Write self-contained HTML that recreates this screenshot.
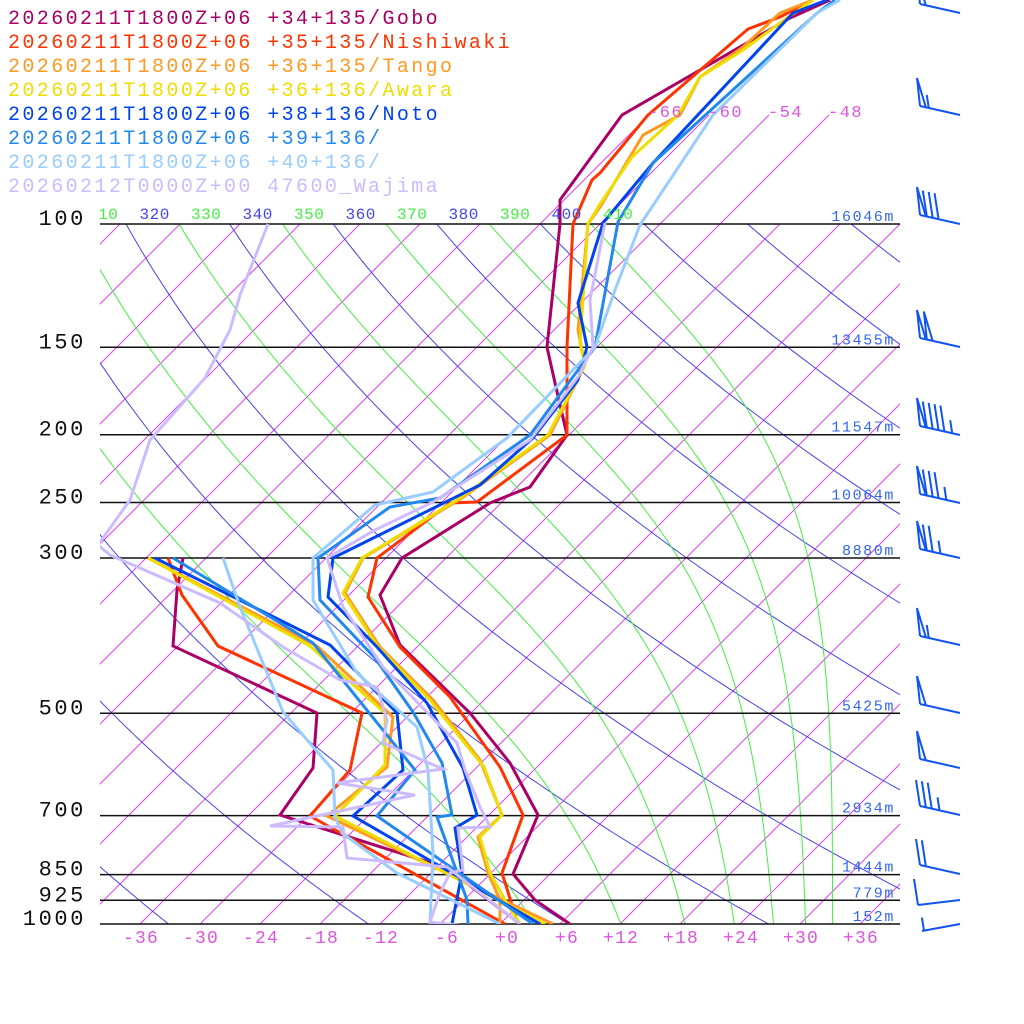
<!DOCTYPE html>
<html><head><meta charset="utf-8"><style>
html,body{margin:0;padding:0;background:#fff;width:1024px;height:1024px;overflow:hidden}
svg{display:block}
text{font-family:"Liberation Mono","DejaVu Sans Mono",monospace}
</style></head><body>
<svg id="s" width="1024" height="1024" viewBox="0 0 1024 1024" xmlns="http://www.w3.org/2000/svg">
<defs><clipPath id="c"><rect x="100" y="224" width="800" height="700"/></clipPath>
<clipPath id="c2"><rect x="100" y="0" width="800" height="924"/></clipPath></defs>
<g id="grid" clip-path="url(#c)"></g>
<g id="iso2"></g>
<g id="plines"></g>
<g id="series" clip-path="url(#c2)" fill="none" stroke-width="3" stroke-linejoin="miter"></g>
<g id="labels"></g>
<g id="barbs" stroke="#1155ee" stroke-width="2" fill="none"></g>
<g font-size="20" letter-spacing="2.4">
<text x="8" y="24" fill="#aa0066">20260211T1800Z+06 +34+135/Gobo</text>
<text x="8" y="48" fill="#ff3300">20260211T1800Z+06 +35+135/Nishiwaki</text>
<text x="8" y="72" fill="#ff9922">20260211T1800Z+06 +36+135/Tango</text>
<text x="8" y="96" fill="#eedd00">20260211T1800Z+06 +36+136/Awara</text>
<text x="8" y="120" fill="#0044ee">20260211T1800Z+06 +38+136/Noto</text>
<text x="8" y="144" fill="#2288ee">20260211T1800Z+06 +39+136/</text>
<text x="8" y="168" fill="#99ccff">20260211T1800Z+06 +40+136/</text>
<text x="8" y="192" fill="#ccbbff">20260212T0000Z+00 47600_Wajima</text>
</g>
</svg>
<script>
var NS="http://www.w3.org/2000/svg";
function el(par,tag,a,txt){var e=document.createElementNS(NS,tag);for(var k in a)e.setAttribute(k,a[k]);if(txt!==undefined)e.textContent=txt;document.getElementById(par).appendChild(e);return e;}
function py(p){return 924-700*Math.log10(1000/p);}
function px(T,y){return 500+10*T+(924-y);}
for(var T=-156;T<=42;T+=6){var y1=924,y2=224;el("grid","line",{x1:px(T,y1),y1:y1,x2:px(T,y2),y2:y2,stroke:"#dd44ee","stroke-width":1});}
[-66,-60,-54,-48].forEach(function(T){el("iso2","line",{x1:px(T,224),y1:224,x2:px(T,115),y2:115,stroke:"#dd44ee","stroke-width":1});
 el("labels","text",{x:px(T,115)-1,y:117,fill:"#dd55dd","font-size":17,"letter-spacing":1.5},String(T));});
for(var th=200;th<=560;th+=20){var pts=[];for(var p=1000;p>=100;p-=5){var y=py(p);var t=th*Math.pow(p/1000,0.2857)-273.15;pts.push(px(t,y).toFixed(1)+","+y.toFixed(1));}
 el("grid","polyline",{points:pts.join(" "),fill:"none",stroke:"#4444ee","stroke-width":1});}
function thE(Tc,p){var T=Tc+273.15;var es=6.112*Math.exp(17.67*Tc/(Tc+243.5));if(es>p*0.8)return 1e9;var r=622*es/(p-es);
 return T*Math.pow(1000/p,0.2854*(1-0.00028*r))*Math.exp((3.376/T-0.00254)*r*(1+0.00081*r));}
for(var te=290;te<=410;te+=20){var pts=[];for(var p=1000;p>=100;p-=5){var lo=-140,hi=60;for(var i=0;i<50;i++){var m=(lo+hi)/2;if(thE(m,p)>te)hi=m;else lo=m;}
 var y=py(p);pts.push(px(lo,y).toFixed(1)+","+y.toFixed(1));}
 el("grid","polyline",{points:pts.join(" "),fill:"none",stroke:"#44ee44","stroke-width":1});}
[310,320,330,340,350,360,370,380,390,400,410].forEach(function(v,i){var x=88+(v-310)*5.15;el("labels","text",{x:x,y:219,fill:(i%2?"#4444ee":"#44ee44"),"font-size":16,"letter-spacing":0.5},String(v));});
el("labels","rect",{x:80,y:200,width:20,height:22,fill:"#fff"});
var P=[[100,"16046m"],[150,"13455m"],[200,"11547m"],[250,"10064m"],[300,"8880m"],[500,"5425m"],[700,"2934m"],[850,"1444m"],[925,"779m"],[1000,"152m"]];
P.forEach(function(a){var y=py(a[0]);el("plines","line",{x1:100,y1:y,x2:900,y2:y,stroke:"#111","stroke-width":1.5});
 el("labels","text",{x:86,y:y+1,"text-anchor":"end",fill:"#111","font-size":22,"letter-spacing":2.6},String(a[0]));
 el("labels","text",{x:895,y:y-3,"text-anchor":"end",fill:"#3366ee","font-size":15,"letter-spacing":1.6},a[1]);});
for(var T=-36;T<=36;T+=6){el("labels","text",{x:500+10*T+19,y:943,"text-anchor":"end",fill:"#dd55dd","font-size":18,"letter-spacing":1.2},(T>=0?"+":"")+T);}
var S=[
["#aa0066","830,0 790,18 700,70 622,115 560,200 560,224 547,347 555,383 567,435 530,487 490,503 402,558 380,595 400,645 470,713 510,763 538,815 513,874 535,900 570,924",
 "183,558 177,590 173,646 317,713 313,768 280,815 447,868 520,924"],
["#ff3300","813,0 780,17 748,29 648,115 600,173 592,180 573,224 567,347 567,435 477,502 450,503 377,558 368,597 400,647 450,697 500,767 523,815 502,873 518,924",
 "168,558 182,595 218,646 362,713 350,770 310,816 505,924"],
["#ff9922","813,0 780,13 743,47 700,77 680,115 643,135 600,207 588,224 578,330 582,350 585,365 550,435 462,498 363,558 345,593 380,647 433,700 480,760 502,815 478,837 488,873 500,900 500,924",
 "148,558 317,646 393,717 387,767 327,816 553,924"],
["#eedd00","813,0 780,23 743,50 700,77 678,115 632,157 600,204 588,224 580,343 585,365 548,435 460,498 362,558 343,593 378,647 430,700 484,767 502,815 480,837 490,873 505,900 520,924",
 "148,558 310,646 385,713 385,765 335,816 545,924"],
["#0044ee","827,0 793,13 653,163 603,223 578,303 587,347 578,380 533,438 480,485 333,558 328,597 377,647 427,703 463,768 477,815 455,828 462,873 452,924",
 "155,558 330,645 397,713 403,770 353,816 540,924"],
["#2288ee","835,0 817,13 653,163 618,222 595,347 530,435 440,498 390,507 318,558 320,600 375,658 413,712 442,763 452,815 437,817 467,900 468,924",
 "173,558 313,643 415,770 377,816 533,924"],
["#99ccff","840,0 817,13 713,115 640,225 615,290 595,347 507,438 433,492 375,505 313,558 313,600 357,673 417,727 428,770 433,853 430,924",
 "223,558 240,607 283,712 333,770 335,817 342,833 397,873 500,924"],
["#ccbbff","605,223 590,300 593,347 578,377 530,440 433,502 375,530 327,558 343,607 383,667 457,743 465,770 480,807 490,827 458,828 463,870 450,873 440,893 433,913 430,922 483,928",
 "268,224 240,295 230,330 205,378 150,440 130,500 98,545 110,555 220,603 283,647 340,680 377,687 387,720 383,743 443,769 337,783 415,795 270,826 343,827 347,858 447,867 520,924"]];
S.forEach(function(s){el("series","polyline",{points:s[1],stroke:s[0]});el("series","polyline",{points:s[2],stroke:s[0]});});
function barb(y,fl,fu,ha,tx,ty){tx=tx||920;ty=(ty===undefined)?y-9:ty;var hx=960,hy=y;
 el("barbs","line",{x1:tx,y1:ty,x2:hx,y2:hy});
 var ux=(hx-tx),uy=(hy-ty),L=Math.sqrt(ux*ux+uy*uy);ux/=L;uy/=L;var d=0;
 function at(dd){return [tx+ux*dd,ty+uy*dd];}
 for(var i=0;i<fl;i++){var a=at(d),b=at(d+6);el("barbs","polyline",{points:a[0]+","+a[1]+" "+(a[0]-3)+","+(a[1]-28)+" "+b[0]+","+b[1]});d+=7;}
 for(var i=0;i<fu;i++){var a=at(d);el("barbs","line",{x1:a[0],y1:a[1],x2:a[0]-4,y2:a[1]-26});d+=6;}
 for(var i=0;i<ha;i++){var a=at(d+2);el("barbs","line",{x1:a[0],y1:a[1],x2:a[0]-2,y2:a[1]-13});}}
barb(13,1,0,0);barb(115,1,0,1);barb(224,1,3,0);barb(347,2,0,0);barb(435,1,4,1);barb(503,1,3,1);barb(558,1,2,1);
barb(645,1,0,1);barb(713,1,0,0);barb(768,1,0,0);barb(815,0,3,1);barb(874,0,2,0);barb(900,0,1,0,918,905);barb(924,0,0,1,922,931);
</script>
</body></html>
